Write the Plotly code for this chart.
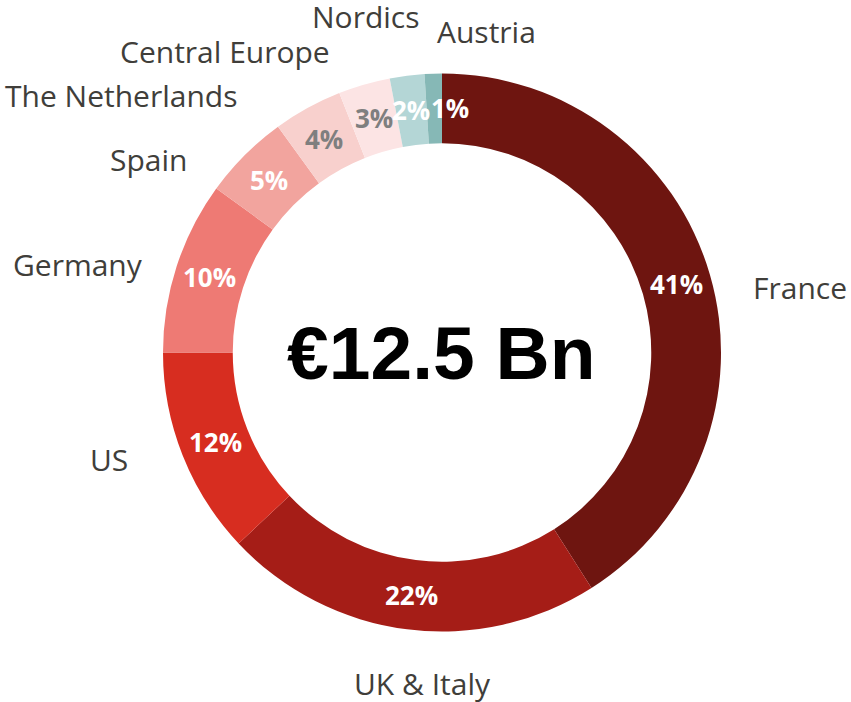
import math
import plotly.graph_objects as go

# ---- data ----
regions = ["France", "UK & Italy", "US", "Germany", "Spain",
           "The Netherlands", "Central Europe", "Nordics", "Austria"]
shares = [41, 22, 12, 10, 5, 4, 3, 2, 1]
total_label = "€12.5 Bn"

# ---- style ----
colors = ["#6E1510", "#A51D17", "#D72D20", "#EE7A74", "#F2A49E",
          "#F8D0CD", "#FCE4E4", "#B4D6D6", "#86B8B6"]
pct_colors = ["white", "white", "white", "white", "white",
              "#7F7F7F", "#7F7F7F", "white", "white"]
label_anchor = ["left", "center", "right", "right", "right",
                "right", "right", "center", "left"]
label_nudge = [(2, 24), (21, 14), (-14, -11), (7, 11), (-27, 33),
               (-48, 23), (-21, 6), (-36, -19), (3, -1)]
pct_nudge = [(0, 0)] * 8 + [(16, 0)]

W, H = 851, 702
CX, CY, R = 442, 352.5, 279      # pixel centre / outer radius of the ring
HOLE = 0.75
R_PCT = R * (1 + HOLE) / 2
R_LAB = 320
LABEL_COLOR = "#403E3A"

dom_x = [(CX - R) / W, (CX + R) / W]
dom_y = [1 - (CY + R) / H, 1 - (CY - R) / H]

fig = go.Figure(go.Pie(
    labels=regions, values=shares, sort=False, direction="clockwise",
    rotation=0, hole=HOLE, textinfo="none", hoverinfo="label+percent",
    marker=dict(colors=colors, line=dict(color="white", width=0)),
    domain=dict(x=dom_x, y=dom_y), showlegend=False,
))


def to_paper(px, py):
    return px / W, 1 - py / H


tot = sum(shares)
cum = 0
annotations = []
for i, (name, v) in enumerate(zip(regions, shares)):
    mid = (cum + v / 2) / tot * 2 * math.pi
    cum += v
    s, c = math.sin(mid), math.cos(mid)
    # percentage inside ring
    px = CX + R_PCT * s + pct_nudge[i][0]
    py = CY - R_PCT * c + pct_nudge[i][1]
    x, y = to_paper(px, py)
    annotations.append(dict(
        x=x, y=y, xref="paper", yref="paper", showarrow=False,
        text=f"<b>{round(v / tot * 100)}%</b>", xanchor="center", yanchor="middle",
        font=dict(family="Open Sans", size=26, color=pct_colors[i])))
    # category label outside
    lx = CX + R_LAB * s + label_nudge[i][0]
    ly = CY - R_LAB * c + label_nudge[i][1]
    x, y = to_paper(lx, ly)
    annotations.append(dict(
        x=x, y=y, xref="paper", yref="paper", showarrow=False,
        text=name, xanchor=label_anchor[i], yanchor="middle",
        font=dict(family="Open Sans", size=30, color=LABEL_COLOR)))

cx_p, cy_p = to_paper(CX, CY)
annotations.append(dict(
    x=cx_p, y=cy_p, xref="paper", yref="paper", showarrow=False,
    text=f"<b>{total_label}</b>", xanchor="center", yanchor="middle",
    font=dict(family="Liberation Sans", size=75, color="black")))

fig.update_layout(
    width=W, height=H, autosize=False,
    margin=dict(l=0, r=0, t=0, b=0),
    paper_bgcolor="white", plot_bgcolor="white",
    annotations=annotations,
)

fig.write_html("out.html",
               config={"displayModeBar": False},
               post_script="document.body.style.margin='0';"
                           "document.body.style.overflow='hidden';")
